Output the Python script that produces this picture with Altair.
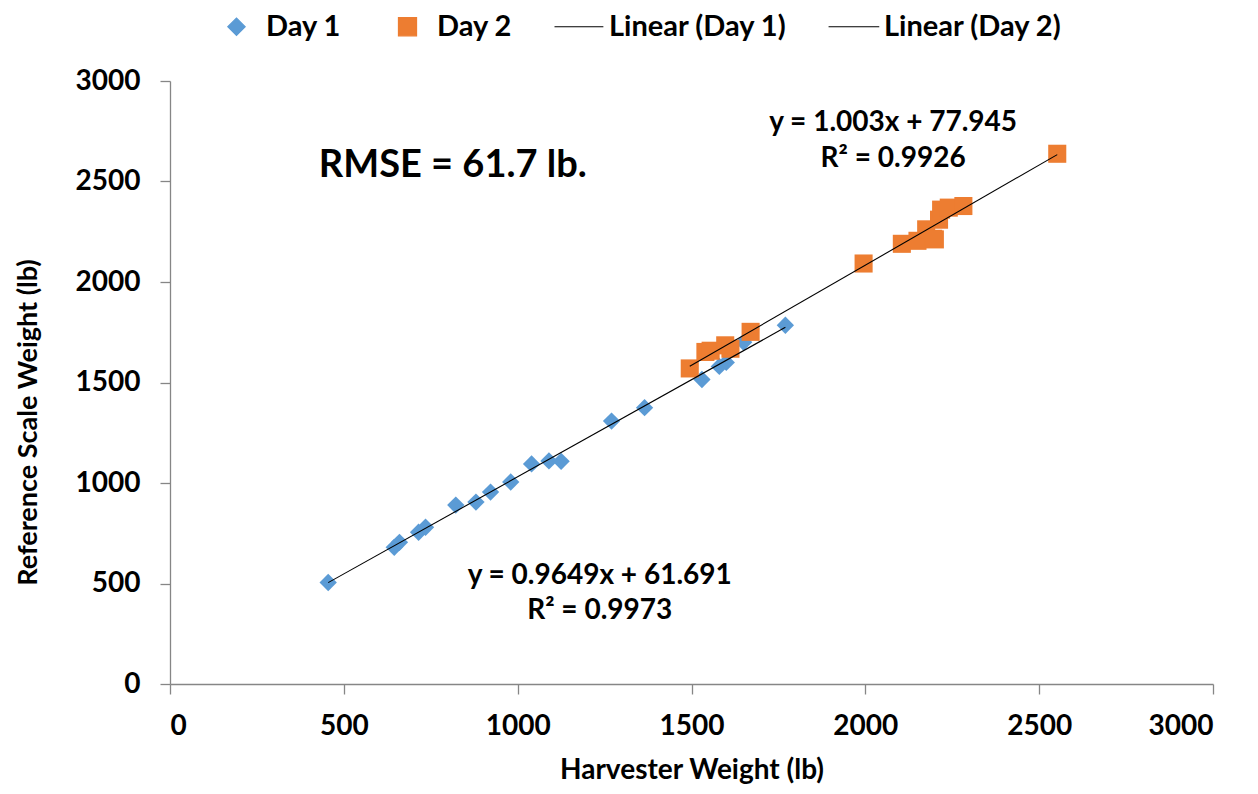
import altair as alt
import pandas as pd

day1_x = [455, 645, 660, 715, 735, 822, 880, 922, 980, 1040, 1090, 1125, 1270, 1365, 1530, 1580, 1600, 1650, 1770]
day1_y = [505, 680, 705, 755, 780, 890, 905, 955, 1005, 1095, 1110, 1108, 1308, 1375, 1515, 1580, 1600, 1700, 1785]
day2_x = [1495, 1540, 1555, 1597, 1612, 1670, 1995, 2105, 2150, 2175, 2195, 2200, 2212, 2218, 2240, 2282, 2552]
day2_y = [1570, 1652, 1658, 1685, 1668, 1752, 2092, 2190, 2205, 2262, 2215, 2212, 2310, 2360, 2370, 2378, 2638]

series_names = ["Day 1", "Day 2", "Linear (Day 1)", "Linear (Day 2)"]
series_colors = ["#5B9BD5", "#ED7D31", "#000000", "#000000"]
BOX = "M-2.66,0M2.54,0"
DIAMOND_SYM = BOX + "M-1,0L0,-1L1,0L0,1Z"
SQUARE_SYM = BOX + "M-1,-1L1,-1L1,1L-1,1Z"
LINE_SYM = "M-2.66,0L2.54,0"
series_shapes = [DIAMOND_SYM, SQUARE_SYM, LINE_SYM, LINE_SYM]
series_sizes = [300, 380, 300, 300]

notes_text = ["RMSE = 61.7 lb.", "y = 1.003x + 77.945", "R² = 0.9926", "y = 0.9649x + 61.691", "R² = 0.9973"]
notes_x = [428, 2080, 2080, 1236, 1236]
notes_y = [2575, 2790, 2614, 535, 364]
notes_size = [38, 28, 28, 28, 28]
notes_align = ["left", "center", "center", "center", "center"]

FONT = "Lato"

pts = pd.DataFrame({
    "x": day1_x + day2_x,
    "y": day1_y + day2_y,
    "series": ["Day 1"] * len(day1_x) + ["Day 2"] * len(day2_x),
})
notes = pd.DataFrame({"t": notes_text, "x": notes_x, "y": notes_y})

xs = alt.Scale(domain=[0, 3000], nice=False)
ys = alt.Scale(domain=[0, 3000], nice=False)

legend = alt.Legend(
    title=None, orient="none", direction="horizontal", legendX=52, legendY=-69,
    labelFont=FONT, labelFontSize=29, labelFontWeight="bold", labelColor="black",
    labelLimit=400, columnPadding=39, labelOffset=15, symbolStrokeWidth=1.2, symbolSize=196,
)
color = alt.Color("series:N", scale=alt.Scale(domain=series_names, range=series_colors), legend=legend)
shape = alt.Shape("series:N", scale=alt.Scale(domain=series_names, range=series_shapes), legend=legend)
size = alt.Size("series:N", scale=alt.Scale(domain=series_names, range=series_sizes), legend=None)

ticks = [0, 500, 1000, 1500, 2000, 2500, 3000]
xaxis = alt.Axis(values=ticks, format="d", title="Harvester Weight (lb)", titleFontSize=28,
                 grid=False, tickSize=10, labelPadding=18, titlePadding=16)
yaxis = alt.Axis(values=ticks, format="d", title="Reference Scale Weight (lb)", titleFontSize=27,
                 grid=False, tickSize=10, labelPadding=20, titleX=-142, titleY=341,
                 titleBaseline="middle", titleAlign="center")

points = alt.Chart(pts).mark_point(filled=True, opacity=1).encode(
    x=alt.X("x:Q", scale=xs, axis=xaxis),
    y=alt.Y("y:Q", scale=ys, axis=yaxis),
    color=color, shape=shape, size=size,
)

lines = alt.Chart(pts).transform_regression(
    "x", "y", groupby=["series"]
).transform_calculate(
    series='"Linear (" + datum.series + ")"'
).mark_line(strokeWidth=1.1).encode(
    x=alt.X("x:Q", scale=xs), y=alt.Y("y:Q", scale=ys), color=color,
)

def note(i):
    return alt.Chart(notes.iloc[[i]]).mark_text(
        fontSize=int(notes_size[i]), fontWeight="bold", font=FONT, color="black",
        align=notes_align[i], baseline="middle",
    ).encode(x=alt.X("x:Q", scale=xs), y=alt.Y("y:Q", scale=ys), text="t:N")

chart = alt.layer(points, lines, *[note(i) for i in range(len(notes_text))]).properties(
    width=1043, height=603,
    autosize=alt.AutoSizeParams(type="none"),
    padding={"left": 162, "top": 73, "right": 37, "bottom": 102},
).configure_axis(
    domainColor="#868686", tickColor="#868686", domainWidth=1.3, tickWidth=1.3,
    labelFont=FONT, labelFontSize=28, labelFontWeight="bold", labelColor="black",
    titleFont=FONT, titleFontWeight="bold", titleColor="black",
).configure_view(stroke=None)

chart.save("out.html", embed_options={"renderer": "svg", "actions": False})
